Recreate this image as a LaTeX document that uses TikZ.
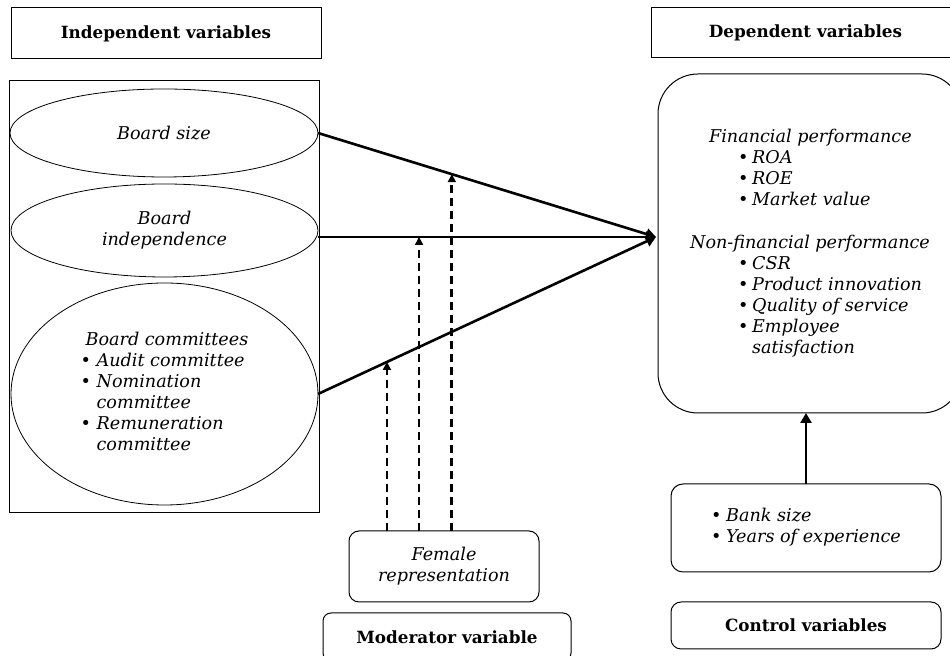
\documentclass[tikz,border=0pt]{standalone}
\usepackage{fontspec}
\setmainfont{DejaVu Serif}
\usetikzlibrary{arrows.meta,shapes.geometric,calc}
\newcommand{\bitem}[2][7pt]{\makebox[#1][l]{\textbullet}#2}
\begin{document}
\begin{tikzpicture}[x=0.5pt,y=-0.5pt,
  every node/.style={font=\fontsize{8.8}{10.5}\selectfont, inner sep=0pt, outer sep=0pt},
  rect/.style={draw, line width=0.5pt, align=center},
  rbox/.style={draw, line width=0.5pt, rounded corners=#1, align=center},
  rbox/.default=5pt,
  oval/.style={draw, ellipse, line width=0.4pt, align=center},
  mainarrow/.style={line width=1.3pt, -{Triangle[length=5pt,width=5.5pt]}},
  modarrow/.style={line width=1.4pt, dash pattern=on 4pt off 2.5pt, -{Triangle[length=4pt,width=4pt]}},
  head/.style={font=\fontsize{8.4}{10.5}\selectfont\bfseries}]
\useasboundingbox (0,0) rectangle (950,656);
\clip (0,0) rectangle (950,656);

% headers
\node[rect, head, minimum width=155pt, minimum height=25.5pt] (ivh) at (166,33.5) {Independent variables};
\node[rect, head, minimum width=154.5pt, minimum height=25pt] (dvh) at (805.5,33) {Dependent variables};

% independent variables
\node[rect, minimum width=155pt, minimum height=216pt] (ivbox) at (164,297) {};
\node[oval, minimum width=154pt, minimum height=44pt] (bs) at (164,133) {\itshape Board size};
\node[oval, minimum width=153.5pt, minimum height=46.5pt] (bi) at (164.5,230.5) {\itshape Board\\\itshape independence};
\node[oval, minimum width=153.5pt, minimum height=111pt] (bc) at (164.5,394) {%
  \itshape\begin{tabular}{@{}l@{}}
  \hspace{2.5pt}Board committees\\
  \bitem[8pt]{Audit committee}\\
  \bitem[8pt]{Nomination}\\
  \hspace{8pt}committee\\
  \bitem[8pt]{Remuneration}\\
  \hspace{8pt}committee
  \end{tabular}};

% dependent variables
\node[rbox=20pt, minimum width=152pt, minimum height=169.5pt] (dv) at (810,243.5) {%
  \itshape\begin{tabular}{@{}l@{}}
  \hspace{9.5pt}Financial performance\\
  \hspace{24pt}\bitem{ROA}\\
  \hspace{24pt}\bitem{ROE}\\
  \hspace{24pt}\bitem{Market value}\\[11pt]
  Non-financial performance\\
  \hspace{24pt}\bitem{CSR}\\
  \hspace{24pt}\bitem{Product innovation}\\
  \hspace{24pt}\bitem{Quality of service}\\
  \hspace{24pt}\bitem{Employee}\\
  \hspace{31pt}satisfaction
  \end{tabular}};

% control variables
\node[rbox=6pt, minimum width=135pt, minimum height=44pt] (cb) at (806,528) {%
  \itshape\begin{tabular}{@{}l@{}}
  \bitem[7.5pt]{Bank size}\\
  \bitem[7.5pt]{Years of experience}
  \end{tabular}};
\node[rbox=5pt, head, minimum width=135pt, minimum height=23.5pt] (cvh) at (806,625.5) {Control variables};

% moderator
\node[rbox=5pt, minimum width=95pt, minimum height=35.5pt] (fr) at (444,566.5) {\itshape Female\\\itshape representation};
\node[rbox=4pt, head, minimum width=124pt, minimum height=24pt] (mvh) at (447,637) {Moderator variable};

% main arrows
\coordinate (tip) at (656,237);
\draw[mainarrow] (bs.east) -- (tip);
\draw[mainarrow] (bi.east |- tip) -- (tip);
\draw[mainarrow] (bc.east) -- (tip);
\draw[mainarrow] (cb.north) -- (cb.north |- dv.south);

% moderating arrows
\path (bs.east) -- (tip) coordinate[pos=0.396] (m1);
\path (bi.east |- tip) -- (tip) coordinate[pos=0.299] (m2);
\path (bc.east) -- (tip) coordinate[pos=0.204] (m3);
\draw[modarrow] (m1 |- fr.north) -- (m1);
\draw[modarrow] (m2 |- fr.north) -- (m2);
\draw[modarrow] (m3 |- fr.north) -- (m3);
\end{tikzpicture}
\end{document}
